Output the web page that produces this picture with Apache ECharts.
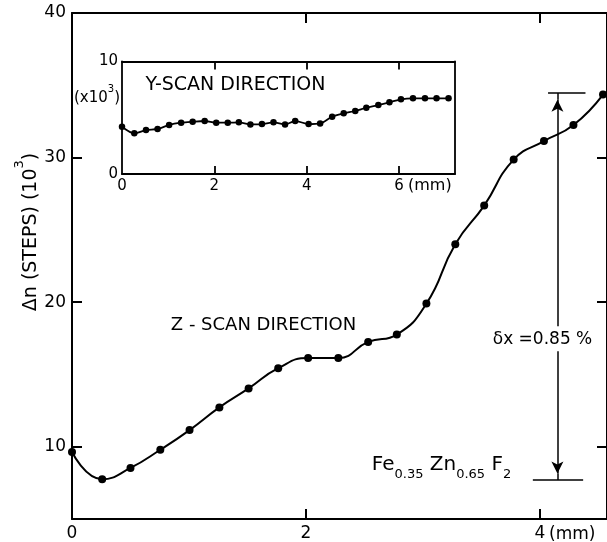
<!DOCTYPE html>
<html><head><meta charset="utf-8">
<script src="https://cdn.jsdelivr.net/npm/echarts@6/dist/echarts.min.js"></script>
<style>html,body{margin:0;padding:0;background:#fff}#c{width:607px;height:542px}</style>
</head><body><div id="c"></div><script>
// Z-scan (main plot): position (mm) vs Δn (10^3 steps)
const zScanX = [0, 0.258, 0.50, 0.755, 1.005, 1.26, 1.51, 1.763, 2.019, 2.277, 2.532, 2.777, 3.03, 3.277, 3.524, 3.776, 4.035, 4.287, 4.54];
const zScanY = [9.63, 7.75, 8.53, 9.79, 11.15, 12.72, 14.03, 15.43, 16.14, 16.14, 17.25, 17.76, 19.9, 24.01, 26.68, 29.86, 31.14, 32.25, 34.36];
// Y-scan (inset)
const yScanX = [0, 0.266, 0.52, 0.77, 1.02, 1.28, 1.53, 1.79, 2.04, 2.29, 2.53, 2.78, 3.03, 3.28, 3.53, 3.75, 4.04, 4.29, 4.55, 4.80, 5.05, 5.29, 5.55, 5.79, 6.04, 6.30, 6.56, 6.81, 7.07];
const yScanY = [4.2, 3.62, 3.91, 4.0, 4.36, 4.56, 4.65, 4.71, 4.56, 4.56, 4.59, 4.41, 4.44, 4.59, 4.41, 4.71, 4.44, 4.5, 5.1, 5.39, 5.6, 5.9, 6.13, 6.37, 6.64, 6.73, 6.73, 6.73, 6.73];
// Axis ticks / labels
const mainXLabels = [0, 2, 4];
const mainXTicks = [2, 4];
const mainYLabels = [10, 20, 30, 40];
const mainYTicks = [10, 20, 30];
const insetXLabels = [0, 2, 4, 6];
const insetXTicks = [2, 4, 6];
const insetYLabels = [0, 10];
const mainXRange = [0, 4.574];
const mainYRange = [5, 40];
const insetXRange = [0, 7.21];
const insetYRange = [0, 10];
// δx annotation (data coords of main plot)
const arrowX = 4.15;
const arrowTopBar = 34.46, arrowBottomBar = 7.70;
const arrowTopTip = 34.0, arrowBottomTip = 8.15;
const arrowGap = [16.6, 18.33];
const topBarX = [4.07, 4.39];
const bottomBarX = [3.94, 4.37];

const FF = 'DejaVu Sans';
const BLACK = '#000';

function pts(xs, ys) { return xs.map((x, i) => [x, ys[i]]); }

function xAxisDef(grid, pos, range, ticks, labels, tickLen, lw, fs, margin) {
  return {
    type: 'value', gridIndex: grid, position: pos, min: range[0], max: range[1],
    axisLine: { show: true, onZero: false, lineStyle: { color: BLACK, width: lw } },
    axisTick: { show: true, inside: true, length: tickLen, customValues: ticks, lineStyle: { color: BLACK, width: lw } },
    axisLabel: labels ? { show: true, customValues: labels, color: BLACK, fontSize: fs, fontFamily: FF, margin: margin } : { show: false },
    splitLine: { show: false }
  };
}
function yAxisDef(grid, pos, range, ticks, labels, tickLen, lw, fs, margin) {
  return {
    type: 'value', gridIndex: grid, position: pos, min: range[0], max: range[1],
    axisLine: { show: true, onZero: false, lineStyle: { color: BLACK, width: lw } },
    axisTick: ticks ? { show: true, inside: true, length: tickLen, customValues: ticks, lineStyle: { color: BLACK, width: lw } } : { show: false },
    axisLabel: labels ? { show: true, customValues: labels, color: BLACK, fontSize: fs, fontFamily: FF, margin: margin } : { show: false },
    splitLine: { show: false }
  };
}

const chart = echarts.init(document.getElementById('c'), null, { renderer: 'canvas' });
const lineSeg = (a, b, withArrow) => [
  { coord: a, symbol: 'none' },
  { coord: b, symbol: withArrow ? 'arrow' : 'none', symbolSize: [9, 12] }
];

chart.setOption({
  animation: false,
  backgroundColor: '#fff',
  grid: [
    { left: 72, top: 13, width: 537, height: 507 },
    { left: 122, top: 61.5, width: 333, height: 112.5 }
  ],
  xAxis: [
    xAxisDef(0, 'bottom', mainXRange, mainXTicks, mainXLabels, 10, 2, 17, 6),
    xAxisDef(0, 'top', mainXRange, mainXTicks, null, 10, 2),
    xAxisDef(1, 'bottom', insetXRange, insetXTicks, insetXLabels, 8, 1.8, 15, 5),
    xAxisDef(1, 'top', insetXRange, insetXTicks, null, 8, 1.8)
  ],
  yAxis: [
    yAxisDef(0, 'left', mainYRange, mainYTicks, mainYLabels, 10, 2, 17, 6),
    yAxisDef(0, 'right', mainYRange, mainYTicks, null, 10, 2),
    yAxisDef(1, 'left', insetYRange, null, insetYLabels, 8, 1.8, 15, 4),
    yAxisDef(1, 'right', insetYRange, null, null, 8, 1.8)
  ],
  series: [
    {
      type: 'line', xAxisIndex: 0, yAxisIndex: 0, data: pts(zScanX, zScanY),
      smooth: 0.5, symbol: 'circle', symbolSize: 8, showSymbol: true,
      itemStyle: { color: BLACK }, lineStyle: { color: BLACK, width: 2 }, z: 5,
      markLine: {
        silent: true, animation: false, label: { show: false },
        lineStyle: { type: 'solid', color: BLACK, width: 1.5 },
        symbol: ['none', 'none'],
        data: [
          lineSeg([arrowX, arrowGap[1]], [arrowX, arrowTopTip], true),
          lineSeg([arrowX, arrowGap[0]], [arrowX, arrowBottomTip], true),
          lineSeg([arrowX, arrowTopTip], [arrowX, arrowTopBar], false),
          lineSeg([arrowX, arrowBottomTip], [arrowX, arrowBottomBar], false),
          lineSeg([topBarX[0], arrowTopBar], [topBarX[1], arrowTopBar], false),
          lineSeg([bottomBarX[0], arrowBottomBar], [bottomBarX[1], arrowBottomBar], false)
        ]
      }
    },
    {
      type: 'line', xAxisIndex: 2, yAxisIndex: 2, data: pts(yScanX, yScanY),
      smooth: 0.3, symbol: 'circle', symbolSize: 6.5, showSymbol: true,
      itemStyle: { color: BLACK }, lineStyle: { color: BLACK, width: 1.8 }, z: 5
    }
  ],
  graphic: [
    { type: 'text', x: 27, y: 232, rotation: Math.PI / 2,
      style: { text: '{a|Δn (STEPS) (10}{s|3}{a|)}', align: 'center', verticalAlign: 'middle',
        rich: { a: { fontSize: 19, fontFamily: FF, fill: BLACK, lineHeight: 28, verticalAlign: 'bottom' },
                s: { fontSize: 13, fontFamily: FF, fill: BLACK, lineHeight: 14, verticalAlign: 'top' } } } },
    { type: 'text', x: 97, y: 95,
      style: { text: '{a|(x10}{s|3}{a|)}', align: 'center', verticalAlign: 'middle',
        rich: { a: { fontSize: 15, fontFamily: FF, fill: BLACK, lineHeight: 22, verticalAlign: 'bottom' },
                s: { fontSize: 10, fontFamily: FF, fill: BLACK, lineHeight: 12, verticalAlign: 'top' } } } },
    { type: 'text', x: 263.5, y: 325,
      style: { text: 'Z - SCAN DIRECTION', align: 'center', verticalAlign: 'middle', fontSize: 18, fontFamily: FF, fill: BLACK } },
    { type: 'text', x: 235.5, y: 85,
      style: { text: 'Y-SCAN DIRECTION', align: 'center', verticalAlign: 'middle', fontSize: 19, fontFamily: FF, fill: BLACK } },
    { type: 'text', x: 542.5, y: 340,
      style: { text: 'δx =0.85 %', align: 'center', verticalAlign: 'middle', fontSize: 17, fontFamily: FF, fill: BLACK } },
    { type: 'text', x: 441.5, y: 468,
      style: { text: '{b|Fe}{s|0.35}{b| Zn}{s|0.65}{b| F}{s|2}', align: 'center', verticalAlign: 'middle',
        rich: { b: { fontSize: 20, fontFamily: FF, fill: BLACK, lineHeight: 26, verticalAlign: 'top' },
                s: { fontSize: 13, fontFamily: FF, fill: BLACK, lineHeight: 14, verticalAlign: 'bottom' } } } },
    { type: 'text', x: 549, y: 535,
      style: { text: '(mm)', align: 'left', verticalAlign: 'middle', fontSize: 17, fontFamily: FF, fill: BLACK } },
    { type: 'text', x: 408, y: 186,
      style: { text: '(mm)', align: 'left', verticalAlign: 'middle', fontSize: 16, fontFamily: FF, fill: BLACK } }
  ]
});
</script></body></html>
